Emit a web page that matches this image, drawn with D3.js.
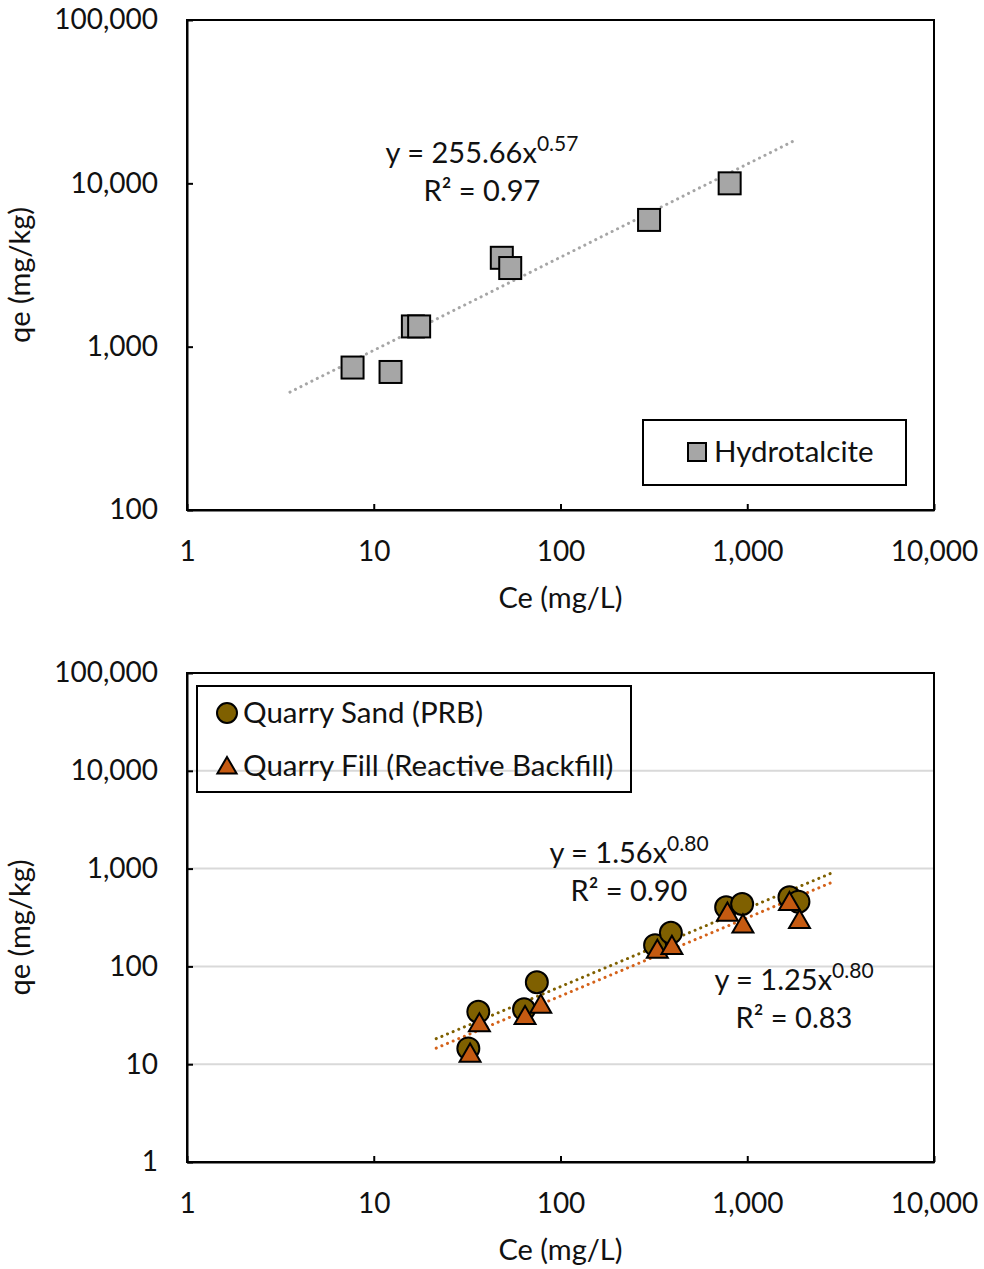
<!DOCTYPE html>
<html>
<head>
<meta charset="utf-8">
<script src="https://cdn.jsdelivr.net/npm/d3@7"></script>
<style>
  body { margin: 0; background: #fff; }
  svg text { font-family: Lato, "Open Sans", sans-serif; fill: #111; }
  .frame { fill: none; stroke: #000; stroke-width: 2; }
  .grid line { stroke: #d9d9d9; stroke-width: 2; }
</style>
</head>
<body>
<svg width="984" height="1269"></svg>
<script>
// --- data: top chart (Hydrotalcite) ---
const hydroCe = [7.7, 12.3, 16.2, 17.5, 48.5, 53.8, 298, 805];
const hydroQe = [745, 700, 1330, 1330, 3500, 3030, 5970, 10000];
const hydroFit = { a: 255.66, b: 0.57, r2: 0.97 };
const hydroFitRange = [3.56, 1806];

// --- data: bottom chart ---
const sandCe = [32.1, 36.3, 63.8, 74.7, 321, 390, 771, 939, 1683, 1880];
const sandQe = [14.5, 34.4, 36.4, 68.8, 165, 221, 402, 435, 509, 459];
const fillCe = [32.8, 36.8, 64.6, 78.4, 330, 395, 783, 948, 1683, 1905];
const fillQe = [12.8, 26.2, 31.1, 40.6, 148, 162, 354, 269, 455, 298];
const sandFit = { a: 1.56, b: 0.80, r2: 0.90 };
const fillFit = { a: 1.25, b: 0.80, r2: 0.83 };
const bottomFitRange = [21.6, 2840];

const xTicks = [1, 10, 100, 1000, 10000];
const yTicksTop = [100, 1000, 10000, 100000];
const yTicksBottom = [1, 10, 100, 1000, 10000, 100000];

const fmt = d3.format(",");
const svg = d3.select("svg");
const left = 187, right = 934;

function makeChart(y0, y1, yDomain, yTicks, gridlines) {
    const x = d3.scaleLog().domain([1, 10000]).range([left, right]);
    const y = d3.scaleLog().domain(yDomain).range([y1, y0]);
    const g = svg.append("g");

    if (gridlines) {
        g.append("g").attr("class", "grid")
            .selectAll("line")
            .data(yTicks.slice(1, -1))
            .enter().append("line")
            .attr("x1", left).attr("x2", right)
            .attr("y1", d => y(d)).attr("y2", d => y(d));
    }

    const xa = g.append("g")
        .attr("transform", `translate(0,${y1})`)
        .call(d3.axisBottom(x).tickValues(xTicks).tickFormat(fmt)
            .tickSizeInner(-6).tickSizeOuter(0).tickPadding(31));
    const ya = g.append("g")
        .attr("transform", `translate(${left},0)`)
        .call(d3.axisLeft(y).tickValues(yTicks).tickFormat(fmt)
            .tickSizeInner(-6).tickSizeOuter(0).tickPadding(29));
    [xa, ya].forEach(a => {
        a.select(".domain").attr("stroke", "#000").attr("stroke-width", 2);
        a.selectAll(".tick line").attr("stroke", "#000").attr("stroke-width", 2);
        a.selectAll(".tick text").attr("font-size", 28).attr("fill", "#111")
            .style("font-family", "Lato, sans-serif");
    });

    g.append("rect").attr("class", "frame")
        .attr("x", left).attr("y", y0)
        .attr("width", right - left).attr("height", y1 - y0);

    g.append("text")
        .attr("x", (left + right) / 2).attr("y", y1 + 98)
        .attr("text-anchor", "middle").attr("font-size", 29)
        .text("Ce (mg/L)");
    g.append("text")
        .attr("transform", `translate(30,${(y0 + y1) / 2 + 10}) rotate(-90)`)
        .attr("text-anchor", "middle").attr("font-size", 29)
        .text("qe (mg/kg)");

    return { x, y, g };
}

function trend(c, fit, range, color) {
    const xs = d3.range(0, 51).map(i => range[0] * Math.pow(range[1] / range[0], i / 50));
    const line = d3.line().x(d => c.x(d)).y(d => c.y(fit.a * Math.pow(d, fit.b)));
    c.g.append("path").datum(xs)
        .attr("d", line)
        .attr("fill", "none").attr("stroke", color)
        .attr("stroke-width", 3).attr("stroke-linecap", "round")
        .attr("stroke-dasharray", "0.1 6");
}

function equation(g, cx, cy, fit) {
    const t = g.append("text").attr("x", cx).attr("y", cy)
        .attr("text-anchor", "middle").attr("font-size", 29);
    t.append("tspan").text(`y = ${fit.a.toFixed(2)}x`);
    t.append("tspan").attr("dy", -12).attr("font-size", 21).text(fit.b.toFixed(2));
    g.append("text").attr("x", cx).attr("y", cy + 38)
        .attr("text-anchor", "middle").attr("font-size", 29)
        .text(`R² = ${fit.r2.toFixed(2)}`);
}

// ---------- top chart ----------
const topChart = makeChart(20, 510, [100, 100000], yTicksTop, false);
trend(topChart, hydroFit, hydroFitRange, "#a6a6a6");
topChart.g.selectAll(".sq")
    .data(d3.zip(hydroCe, hydroQe))
    .enter().append("rect")
    .attr("x", d => topChart.x(d[0]) - 11).attr("y", d => topChart.y(d[1]) - 11)
    .attr("width", 22).attr("height", 22)
    .attr("fill", "#a6a6a6").attr("stroke", "#000").attr("stroke-width", 2);
equation(topChart.g, 482, 163, hydroFit);

topChart.g.append("rect").attr("class", "frame")
    .attr("x", 643).attr("y", 420).attr("width", 263).attr("height", 65)
    .attr("fill", "#fff");
topChart.g.append("rect").attr("x", 688).attr("y", 443).attr("width", 18).attr("height", 18)
    .attr("fill", "#a6a6a6").attr("stroke", "#000").attr("stroke-width", 2);
topChart.g.append("text").attr("x", 714).attr("y", 462).attr("font-size", 29.5).text("Hydrotalcite");

// ---------- bottom chart ----------
const botChart = makeChart(673, 1162, [1, 100000], yTicksBottom, true);
trend(botChart, sandFit, bottomFitRange, "#7f6000");
trend(botChart, fillFit, bottomFitRange, "#d4621a");

const tri = d3.symbol().type(d3.symbolTriangle).size(190);
d3.zip(sandCe, sandQe).forEach(d => {
    botChart.g.append("circle")
        .attr("cx", botChart.x(d[0])).attr("cy", botChart.y(d[1])).attr("r", 11)
        .attr("fill", "#7f6000").attr("stroke", "#000").attr("stroke-width", 2);
});
d3.zip(fillCe, fillQe).forEach(d => {
    botChart.g.append("path").attr("d", tri)
        .attr("transform", `translate(${botChart.x(d[0])},${botChart.y(d[1]) + 2})`)
        .attr("fill", "#c55a11").attr("stroke", "#000").attr("stroke-width", 2);
});
equation(botChart.g, 629, 863, sandFit);
equation(botChart.g, 794, 990, fillFit);

botChart.g.append("rect").attr("class", "frame")
    .attr("x", 197).attr("y", 686).attr("width", 434).attr("height", 106)
    .attr("fill", "#fff");
botChart.g.append("circle").attr("cx", 227).attr("cy", 713).attr("r", 10)
    .attr("fill", "#7f6000").attr("stroke", "#000").attr("stroke-width", 2);
botChart.g.append("text").attr("x", 243).attr("y", 723).attr("font-size", 29.5).text("Quarry Sand (PRB)");
botChart.g.append("path").attr("d", d3.symbol().type(d3.symbolTriangle).size(160))
    .attr("transform", "translate(227,768)")
    .attr("fill", "#c55a11").attr("stroke", "#000").attr("stroke-width", 2);
botChart.g.append("text").attr("x", 243).attr("y", 776).attr("font-size", 29.5).text("Quarry Fill (Reactive Backfill)");
</script>
</body>
</html>
